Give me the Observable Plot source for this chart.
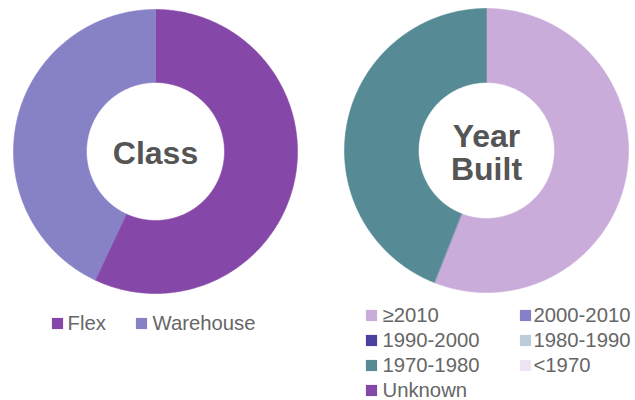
<!DOCTYPE html>
<html>
<head>
<meta charset="utf-8">
<script src="https://cdn.jsdelivr.net/npm/d3@7"></script>
<script src="https://cdn.jsdelivr.net/npm/@observablehq/plot@0.6"></script>
<style>
  body { margin: 0; background: #fff; }
  svg { display: block; }
  g[aria-label="legend-text"] text { letter-spacing: 0.6px; }
</style>
</head>
<body>
<div id="chart"></div>
<script>
// ---- Data ----
const classCategories = ["Flex", "Warehouse"];
const classValues = [57, 43];
const classColors = ["#8547a8", "#8781c6"];

const yearCategories = ["≥2010", "2000-2010", "1990-2000", "1980-1990", "1970-1980", "<1970", "Unknown"];
const yearValues = [56, 0, 0, 0, 44, 0, 0];
const yearColors = ["#c9acda", "#8580c8", "#4a40a0", "#bdccda", "#568a95", "#eee4f2", "#8547a8"];

const centerLabels = ["Class", "Year\nBuilt"];

// ---- Layout ----
const W = 635, H = 400;
const donuts = [
  {cx: 155, cy: 151, R: 142, r: 69, cats: classCategories, vals: classValues, label: centerLabels[0]},
  {cx: 486, cy: 150, R: 142, r: 68, cats: yearCategories, vals: yearValues, label: centerLabels[1]}
];

// Build annular-sector polygons from pie angles
const pie = d3.pie().sort(null).value(d => d.v);
const polyPoints = [];
const centers = [];
donuts.forEach((dn, di) => {
  const arcs = pie(dn.cats.map((c, i) => ({c, v: dn.vals[i]})));
  arcs.forEach(a => {
    if (a.endAngle - a.startAngle <= 0) return;
    const key = a.data.c + "#" + di;
    const n = Math.max(2, Math.ceil((a.endAngle - a.startAngle) / (Math.PI / 360)));
    for (let k = 0; k <= n; k++) {
      const t = a.startAngle + (a.endAngle - a.startAngle) * k / n;
      polyPoints.push({key, cat: a.data.c, x: dn.cx + dn.R * Math.sin(t), y: dn.cy - dn.R * Math.cos(t)});
    }
    for (let k = n; k >= 0; k--) {
      const t = a.startAngle + (a.endAngle - a.startAngle) * k / n;
      polyPoints.push({key, cat: a.data.c, x: dn.cx + dn.r * Math.sin(t), y: dn.cy - dn.r * Math.cos(t)});
    }
  });
  centers.push({x: dn.cx, y: dn.cy + 2, label: dn.label});
});

const colorOf = new Map();
classCategories.forEach((c, i) => colorOf.set(c, classColors[i]));
yearCategories.forEach((c, i) => colorOf.set(c, yearColors[i]));

// Legend items
const legendItems = [];
classCategories.forEach((c, i) => {
  legendItems.push({cat: c, sx: [57, 141][i], tx: [67, 152][i], y: 323});
});
const rowsY = [315, 340, 365, 390];
yearCategories.forEach((c, i) => {
  legendItems.push({cat: c, sx: [371, 525][i % 2], tx: [382, 533][i % 2], y: rowsY[Math.floor(i / 2)]});
});

const allCats = [...colorOf.keys()];
const chart = Plot.plot({
  width: W, height: H,
  margin: 0,
  x: {domain: [0, W], range: [0, W], axis: null},
  y: {domain: [0, H], range: [0, H], axis: null},
  color: {domain: allCats, range: allCats.map(c => colorOf.get(c))},
  style: {fontFamily: "'Liberation Sans', Arial, sans-serif", background: "#fff"},
  marks: [
    Plot.line(polyPoints, {x: "x", y: "y", z: "key", fill: "cat", stroke: "cat", strokeWidth: 0.6, curve: "linear-closed"}),
    Plot.text(centers, {x: "x", y: "y", text: "label", fontSize: 32, fontWeight: "bold", fill: "#555", lineHeight: 1.03, textAnchor: "middle"}),
    Plot.dot(legendItems, {x: "sx", y: "y", fill: "cat", symbol: "square", r: 6.3, stroke: null}),
    Plot.text(legendItems, {x: "tx", y: "y", text: "cat", fontSize: 20.3, fill: "#666", textAnchor: "start", ariaLabel: "legend-text"})
  ]
});
document.getElementById("chart").appendChild(chart);
</script>
</body>
</html>
